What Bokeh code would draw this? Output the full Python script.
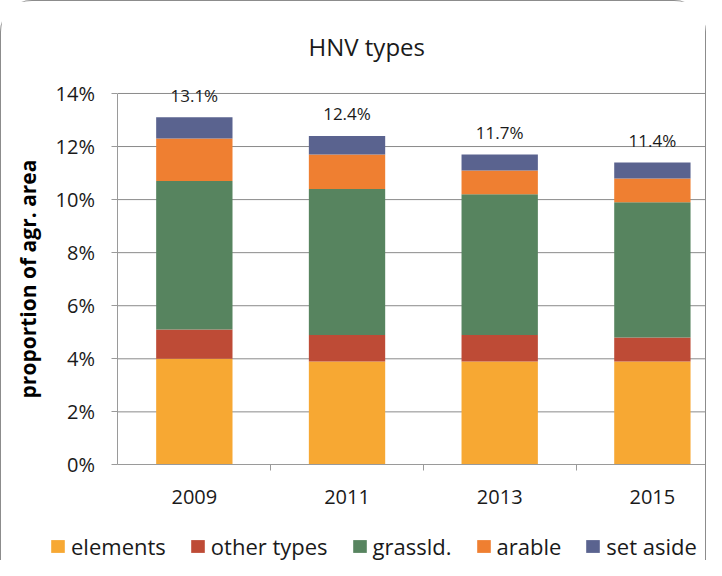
import numpy as np
from bokeh.plotting import figure
from bokeh.models import (ColumnDataSource, FixedTicker, PrintfTickFormatter,
                          Range1d, Legend, LegendItem)
from bokeh.core.properties import value
from bokeh.embed import file_html
from bokeh.resources import INLINE

years = ["2009", "2011", "2013", "2015"]
elements = [4.0, 3.9, 3.9, 3.9]
other_types = [1.1, 1.0, 1.0, 0.9]
grassld = [5.6, 5.5, 5.3, 5.1]
arable = [1.6, 1.3, 0.9, 0.9]
set_aside = [0.8, 0.7, 0.6, 0.6]
totals = [13.1, 12.4, 11.7, 11.4]
y_ticks = [0, 2, 4, 6, 8, 10, 12, 14]

series = ["elements", "other types", "grassld.", "arable", "set aside"]
colors = ["#F7A833", "#BE4B36", "#57845F", "#EF7F31", "#5A638F"]

FONT = "Open Sans"
n = len(years)
ymax = y_ticks[-1]

xs = list(np.arange(n) + 0.5)
source = ColumnDataSource(dict(x=xs, elements=elements, other=other_types,
                               grass=grassld, arable=arable, setaside=set_aside))
lab_src = ColumnDataSource(dict(x=xs, y=totals, t=["%.1f%%" % v for v in totals]))
grid_src = ColumnDataSource(dict(y=y_ticks[1:]))

# the frame covers the whole canvas below the title; axes sit at data 0
p = figure(width=706, height=560, min_border=0, min_border_top=75,
           x_range=Range1d(-0.763, 3.861), y_range=Range1d(-3.64, 14.64),
           output_backend="svg", toolbar_location=None,
           title="HNV types")

grey = "#9a9a9a"
p.segment(x0=0, x1=n, y0="y", y1="y", source=grid_src,
          line_color="#8a8a8a", line_width=1)

rs = p.vbar_stack(["elements", "other", "grass", "arable", "setaside"], x="x", width=0.5,
                  fill_color=colors, line_color=None, source=source)

p.text(x="x", y="y", text="t", source=lab_src, text_align="center",
       text_baseline="alphabetic", y_offset=-22, text_font=value(FONT),
       text_font_size="17px", text_color="#1a1a1a")

# title
p.title.text_font = FONT
p.title.text_font_size = "24px"
p.title.text_font_style = "normal"
p.title.align = "left"
p.title.offset = 307
p.title.standoff = 28
p.title.text_color = "#1a1a1a"

# axes
ya = p.yaxis[0]
ya.fixed_location = 0
ya.bounds = (0, ymax)
ya.ticker = FixedTicker(ticks=y_ticks)
ya.formatter = PrintfTickFormatter(format="%d%%")
ya.major_tick_out = 6
ya.major_tick_in = 0
ya.minor_tick_line_color = None
ya.axis_line_color = grey
ya.major_tick_line_color = grey
ya.major_label_standoff = 17
ya.major_label_text_font = FONT
ya.major_label_text_font_size = "20px"
ya.major_label_text_color = "#1a1a1a"
ya.axis_label = "proportion of agr. area"
ya.axis_label_text_font = FONT
ya.axis_label_text_font_style = "bold"
ya.axis_label_text_font_size = "21px"
ya.axis_label_text_color = "#000000"
ya.axis_label_standoff = 10

xa = p.xaxis[0]
xa.fixed_location = 0
xa.bounds = (0, n)
xa.ticker = FixedTicker(ticks=xs, minor_ticks=list(range(1, n)))
xa.major_label_overrides = {x: y for x, y in zip(xs, years)}
xa.major_tick_line_color = None
xa.minor_tick_out = 6
xa.minor_tick_in = 0
xa.minor_tick_line_color = grey
xa.axis_line_color = grey
xa.major_label_standoff = 19
xa.major_label_text_font = FONT
xa.major_label_text_font_size = "20px"
xa.major_label_text_color = "#1a1a1a"

p.xgrid.grid_line_color = None
p.ygrid.grid_line_color = None
p.outline_line_color = None

# legend at the bottom of the chart
legend = Legend(items=[LegendItem(label=s, renderers=[r]) for s, r in zip(series, rs)],
                orientation="horizontal", location=(48, 0),
                glyph_width=17, glyph_height=16, label_standoff=5, spacing=23,
                padding=0, margin=0, border_line_color=None,
                background_fill_alpha=0, label_text_font=FONT,
                label_text_font_size="22px", label_text_color="#1a1a1a")
p.add_layout(legend, "center")

# rounded chart border
p.styles = {"border-top": "1.3px solid #8c8c8c",
            "border-left": "1.3px solid #8c8c8c",
            "border-right": "1.3px solid #8c8c8c",
            "border-top-left-radius": "32px",
            "border-top-right-radius": "32px"}

open("out.html", "w").write(file_html(p, INLINE))
